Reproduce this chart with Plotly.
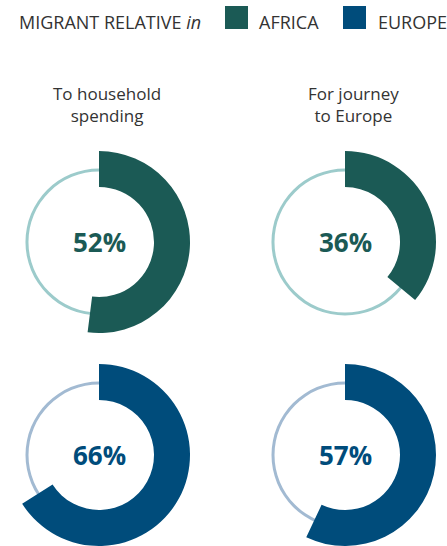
import plotly.graph_objects as go

W, H = 447, 546

regions = ["AFRICA", "EUROPE"]
uses = ["To household<br>spending", "For journey<br>to Europe"]
# shares (%) by region (rows) and use (cols)
values = {
    "AFRICA": [52, 36],
    "EUROPE": [66, 57],
}
main_colors = {"AFRICA": "#1b5a55", "EUROPE": "#004c7b"}
ring_colors = {"AFRICA": "#9ccbcb", "EUROPE": "#a2bad2"}

FONT = "Open Sans"
TEXT = "#333333"

# layout geometry (pixels)
col_cx = [99, 345]
row_cy = [242, 455]
R_OUT, R_IN = 91, 55
RING_R, RING_W = 72, 3

fig = go.Figure()

def px(x):
    return x / W

def py(y):
    return (H - y) / H

def dom(cx, cy, r):
    return dict(x=[max(0, px(cx - r)), min(1, px(cx + r))],
                y=[max(0, py(cy + r)), min(1, py(cy - r))])

for ri, reg in enumerate(regions):
    for ci, use in enumerate(uses):
        cx, cy = col_cx[ci], row_cy[ri]
        v = values[reg][ci]
        ro = RING_R + RING_W / 2
        fig.add_trace(go.Pie(
            values=[1], labels=["ring"], domain=dom(cx, cy, ro),
            hole=(RING_R - RING_W / 2) / ro, sort=False,
            marker=dict(colors=[ring_colors[reg]], line=dict(width=0)),
            textinfo="none", hoverinfo="skip", showlegend=False))
        fig.add_trace(go.Pie(
            values=[v, 100 - v], labels=[reg, "rest"], domain=dom(cx, cy, R_OUT),
            hole=R_IN / R_OUT, sort=False, direction="clockwise", rotation=0,
            marker=dict(colors=[main_colors[reg], "rgba(0,0,0,0)"], line=dict(width=0)),
            textinfo="none", hoverinfo="skip", showlegend=False))
        fig.add_annotation(
            x=px(cx), y=py(cy), xref="paper", yref="paper",
            text=f"<b>{v}%</b>", showarrow=False,
            font=dict(family=FONT, size=26, color=main_colors[reg]),
            xanchor="center", yanchor="middle")

for ci, use in enumerate(uses):
    fig.add_annotation(
        x=px(col_cx[ci] + 8), y=py(105), xref="paper", yref="paper",
        text=use, showarrow=False, align="center",
        font=dict(family=FONT, size=17, color=TEXT),
        xanchor="center", yanchor="middle")

# legend
fig.add_annotation(x=px(17), y=py(22), xref="paper", yref="paper",
                   text="MIGRANT RELATIVE <i>in</i>", showarrow=False,
                   font=dict(family=FONT, size=18, color=TEXT),
                   xanchor="left", yanchor="middle")
leg_sq_x = [225, 343]
leg_tx_x = [257, 376]
shapes = []
for i, reg in enumerate(regions):
    shapes.append(dict(type="rect", xref="paper", yref="paper",
                       x0=px(leg_sq_x[i]), x1=px(leg_sq_x[i] + 23),
                       y0=py(29), y1=py(6),
                       fillcolor=main_colors[reg], line=dict(width=0)))
    fig.add_annotation(x=px(leg_tx_x[i]), y=py(22), xref="paper", yref="paper",
                       text=reg, showarrow=False,
                       font=dict(family=FONT, size=18, color=TEXT),
                       xanchor="left", yanchor="middle")

fig.update_layout(width=W, height=H, margin=dict(l=0, r=0, t=0, b=0),
                  paper_bgcolor="white", plot_bgcolor="white", shapes=shapes)

fig.write_html("out.html", config={"displayModeBar": False},
               post_script="document.body.style.margin='0';document.body.style.overflow='hidden';")
